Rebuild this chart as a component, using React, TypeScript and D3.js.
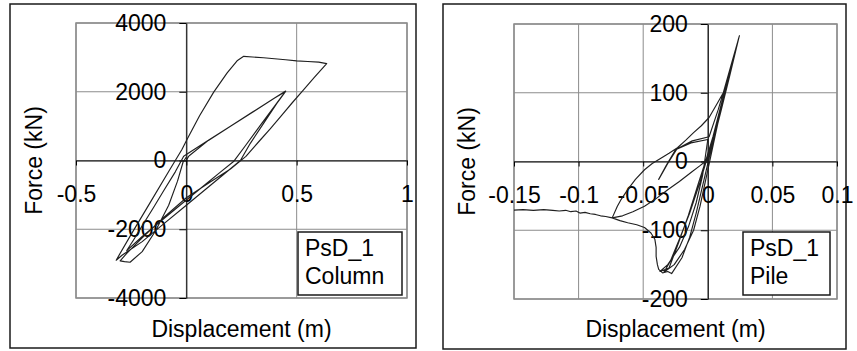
import * as d3 from "d3";
import React, { useEffect, useRef } from "react";

// PsD_1 column: displacement (m) / force (kN)
const columnDisp = [
  0, 0.01, 0.02, 0.1, 0.2, 0.3, 0.4, 0.45,
  0.4, 0.336, 0.27, 0.214, 0.15, 0.086, 0, -0.1, -0.2, -0.27,
  -0.24, -0.2, -0.15, -0.1, -0.05, -0.012, 0,
  0.1, 0.2, 0.3, 0.4, 0.45,
  0.41, 0.35, 0.29, 0.245, 0.17, 0.1, 0, -0.1, -0.2, -0.29, -0.318,
  -0.25, -0.164, -0.08, -0.02, 0.003, 0.06, 0.124, 0.185, 0.23, 0.26,
  0.3, 0.35, 0.4, 0.45, 0.5, 0.55, 0.6, 0.636,
  0.58, 0.53, 0.48, 0.43, 0.38, 0.33, 0.27, 0.2, 0.11, 0, -0.1, -0.2, -0.27, -0.3,
  -0.28, -0.255,
  -0.2, -0.14, -0.08, -0.04, -0.015, 0,
];
const columnForce = [
  0, 120, 175, 585, 995, 1405, 1815, 2020,
  1580, 1030, 450, -30, -360, -700, -1150, -1680, -2210, -2620,
  -2320, -1900, -1380, -850, -330, 125, 175,
  590, 1000, 1410, 1820, 2010,
  1660, 1080, 500, 0, -400, -770, -1300, -1830, -2360, -2750, -2900,
  -2150, -1226, -320, 320, 610, 1300, 1990, 2550, 2900, 3030,
  3010, 2990, 2960, 2930, 2900, 2880, 2860, 2820,
  2420, 2050, 1680, 1300, 920, 560, 120, -250, -620, -1085, -1640, -2250, -2700, -2920,
  -2940, -2960,
  -2650, -2050, -1300, -600, -50, 100,
];

// PsD_1 pile
const pileDisp = [
  0, 0.004, 0.01, 0.017, 0.0243,
  0.018, 0.011, 0.005, 0, -0.006, -0.014, -0.022, -0.029, -0.034,
  -0.026, -0.018, -0.011, -0.006, -0.002, 0.002, 0.006, 0.012, 0.018, 0.024,
  0.017, 0.01, 0.004, -0.001, -0.007, -0.015, -0.023, -0.03, -0.037,
  -0.031, -0.022, -0.015, -0.009, -0.004, 0,
  -0.013, -0.025, -0.032, -0.038, -0.031, -0.024, -0.012, 0.001, 0.008, 0.016, 0.0238,
  0.016, 0.009, 0.003, 0, -0.006, -0.013, -0.022, -0.031, -0.04, -0.049, -0.058, -0.066, -0.074,
  -0.068, -0.062, -0.055, -0.049, -0.044, -0.041, -0.04, -0.04, -0.039, -0.038, -0.035, -0.031, -0.028,
  -0.02, -0.014, -0.009, -0.004, 0.001, 0.006, 0.012, 0.018, 0.0245,
  0.018, 0.012, 0.0075, 0.001, -0.005, -0.011, -0.017, -0.0235, -0.03, -0.036, -0.043, -0.049,
  -0.056, -0.062, -0.067, -0.07, -0.074,
  -0.079, -0.083, -0.087, -0.091, -0.095, -0.099, -0.102, -0.106, -0.11, -0.115, -0.12, -0.127,
  -0.135, -0.143, -0.152,
];
const pileForce = [
  0, 28, 72, 125, 182,
  135, 84, 40, 8, -30, -75, -113, -145, -161,
  -150, -128, -100, -65, -30, 5, 40, 92, 138, 180,
  130, 80, 36, 5, -30, -78, -120, -155, -160,
  -150, -125, -95, -60, -20, 32,
  27, 17, -5, -26, -3, 18, 30, 36, 75, 125, 178,
  120, 70, 28, 3, -6, -16, -29, -41, -54, -65, -73, -79, -82,
  -86, -89, -92, -96, -104, -113, -125, -138, -150, -157, -162, -160, -163,
  -140, -110, -75, -35, 5, 45, 95, 140, 183,
  140, 100, 85, 64, 52, 42, 31, 20, 12, 5, -3, -12,
  -26, -41, -55, -65, -82,
  -80, -79, -77, -76, -74, -75, -72, -73, -71, -72, -71, -70,
  -71, -70, -71,
];

const columnXTicks = [-0.5, 0, 0.5, 1];
const columnYTicks = [-4000, -2000, 0, 2000, 4000];
const pileXTicks = [-0.15, -0.1, -0.05, 0, 0.05, 0.1];
const pileYTicks = [-200, -100, 0, 100, 200];
const columnLegend = ["PsD_1", "Column"];
const pileLegend = ["PsD_1", "Pile"];

const FONT = "Arial, 'Liberation Sans', sans-serif";
const FONT_SIZE = 23;
const GRID = "#8c8c8c";

function drawPanel(svg, p) {
  const { id, frame, plot, disp, force, xTicks, yTicks, legend, legendBox } = p;

  const x = d3.scaleLinear()
    .domain([xTicks[0], xTicks[xTicks.length - 1]])
    .range([plot.x, plot.x + plot.w]);
  const y = d3.scaleLinear()
    .domain([yTicks[0], yTicks[yTicks.length - 1]])
    .range([plot.y + plot.h, plot.y]);

  const g = svg.append("g").attr("class", id);

  // outer chart border
  g.append("rect")
    .attr("x", frame.x).attr("y", frame.y)
    .attr("width", frame.w).attr("height", frame.h)
    .attr("fill", "#fff").attr("stroke", "#1a1a1a").attr("stroke-width", 1.5);

  // gridlines + plot area border
  g.selectAll(".vgrid").data(xTicks).enter().append("line")
    .attr("x1", d => x(d)).attr("x2", d => x(d))
    .attr("y1", plot.y).attr("y2", plot.y + plot.h)
    .attr("stroke", GRID).attr("stroke-width", 1);
  g.selectAll(".hgrid").data(yTicks).enter().append("line")
    .attr("x1", plot.x).attr("x2", plot.x + plot.w)
    .attr("y1", d => y(d)).attr("y2", d => y(d))
    .attr("stroke", GRID).attr("stroke-width", 1);
  g.append("rect")
    .attr("x", plot.x).attr("y", plot.y)
    .attr("width", plot.w).attr("height", plot.h)
    .attr("fill", "none").attr("stroke", GRID).attr("stroke-width", 1.5);

  // axes cross at the origin
  const xAxis = d3.axisBottom(x).tickValues(xTicks).tickFormat(d => String(d))
    .tickSizeInner(5).tickSizeOuter(0).tickPadding(20);
  const yAxis = d3.axisLeft(y).tickValues(yTicks).tickFormat(d => String(d))
    .tickSizeInner(7).tickSizeOuter(0).tickPadding(13);

  const xg = g.append("g").attr("transform", `translate(0,${y(0)})`).call(xAxis);
  const yg = g.append("g").attr("transform", `translate(${x(0)},0)`).call(yAxis);
  [xg, yg].forEach(a => {
    a.attr("font-size", FONT_SIZE).attr("font-family", FONT);
    a.selectAll("path, line").attr("stroke", "#000");
    a.selectAll("text").attr("fill", "#000");
  });

  // hysteresis loop
  const clipId = `clip-${id}`;
  svg.append("defs").append("clipPath").attr("id", clipId)
    .append("rect")
    .attr("x", plot.x).attr("y", plot.y)
    .attr("width", plot.w).attr("height", plot.h);

  const line = d3.line()
    .x(i => x(disp[i]))
    .y(i => y(force[i]));
  g.append("path")
    .datum(d3.range(disp.length))
    .attr("d", line)
    .attr("clip-path", `url(#${clipId})`)
    .attr("fill", "none")
    .attr("stroke", "#1f1f1f")
    .attr("stroke-width", 1.15)
    .attr("stroke-linejoin", "round");

  // legend box
  g.append("rect")
    .attr("x", legendBox.x).attr("y", legendBox.y)
    .attr("width", legendBox.w).attr("height", legendBox.h)
    .attr("fill", "#fff").attr("stroke", "#1a1a1a").attr("stroke-width", 1.5);
  g.selectAll(".leg").data(legend).enter().append("text")
    .attr("x", legendBox.x + 7)
    .attr("y", (d, i) => legendBox.y + 24 + i * 28)
    .attr("font-size", FONT_SIZE).attr("font-family", FONT)
    .text(d => d);

  // axis titles
  g.append("text")
    .attr("transform", `translate(${frame.x + 32},${plot.y + plot.h / 2}) rotate(-90)`)
    .attr("text-anchor", "middle")
    .attr("font-size", FONT_SIZE).attr("font-family", FONT)
    .text("Force (kN)");
  g.append("text")
    .attr("x", plot.x + plot.w / 2)
    .attr("y", 337)
    .attr("text-anchor", "middle")
    .attr("font-size", FONT_SIZE).attr("font-family", FONT)
    .text("Displacement (m)");
}

export default function App() {
  const svgRef = useRef(null);

  useEffect(() => {
    const svg = d3.select(svgRef.current);
    svg.selectAll("*").remove();

    drawPanel(svg, {
      id: "column",
      frame: { x: 10, y: 4, w: 406, h: 344 },
      plot: { x: 76, y: 23, w: 331, h: 275 },
      disp: columnDisp, force: columnForce,
      xTicks: columnXTicks, yTicks: columnYTicks,
      legend: columnLegend,
      legendBox: { x: 298, y: 232, w: 104, h: 63 },
    });
    drawPanel(svg, {
      id: "pile",
      frame: { x: 443, y: 4, w: 403, h: 345 },
      plot: { x: 514, y: 24, w: 323, h: 275 },
      disp: pileDisp, force: pileForce,
      xTicks: pileXTicks, yTicks: pileYTicks,
      legend: pileLegend,
      legendBox: { x: 743, y: 232, w: 87, h: 63 },
    });
  }, []);

  return (
    <svg
      ref={svgRef}
      width={857}
      height={351}
      style={{ position: "absolute", left: 0, top: 0, background: "#fff" }}
    />
  );
}
